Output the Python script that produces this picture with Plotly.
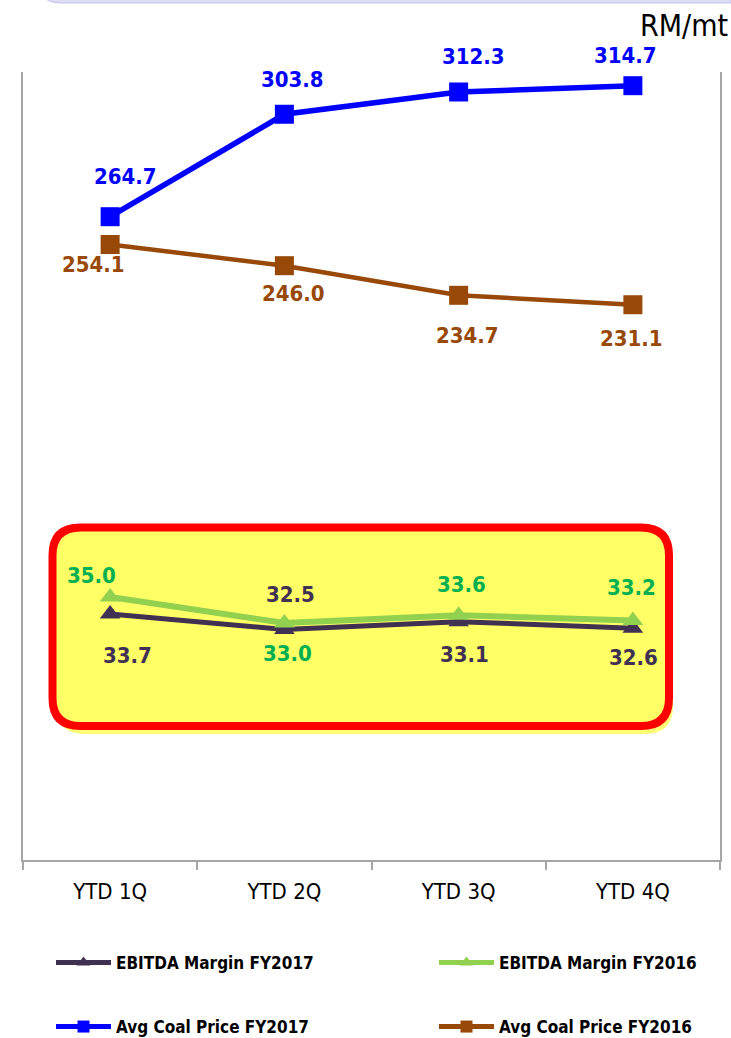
import plotly.graph_objects as go

# ---- data ----
quarters = ["YTD 1Q", "YTD 2Q", "YTD 3Q", "YTD 4Q"]
ebitda_fy2017 = [33.7, 32.5, 33.1, 32.6]
ebitda_fy2016 = [35.0, 33.0, 33.6, 33.2]
coal_fy2017 = [264.7, 303.8, 312.3, 314.7]
coal_fy2016 = [254.1, 246.0, 234.7, 231.1]
unit_label = "RM/mt"

# ---- styling ----
FONT = "DejaVu Sans Condensed"
C_DARK = "#403152"
C_GREEN = "#92D050"
C_GREEN_TXT = "#00B050"
C_BLUE = "#0000FF"
C_BROWN = "#984807"
AXIS_GREY = "#a6a6a6"

W_FIG, H_FIG = 731, 1038
L, R, T, B = 23, 720, 72, 860  # plot area in pixels

# label offsets (dx right, dy down) in pixels for each point
off_coal17 = [(15, -40), (8, -35), (15, -35), (-7, -30)]
off_coal16 = [(-17, 20), (9, 28), (9, 40), (-1, 34)]
off_eb16 = [(-19, -21), (3, 31), (3, -31), (-1, -33)]
off_eb17 = [(17, 42), (6, -35), (6, 33), (1, 29)]


def px(x):
    return (x - L) / (R - L)


def py(y):
    return (B - y) / (B - T)


def rounded_rect(x0, y0, x1, y1, r):
    """Rounded rectangle path in paper coords from pixel corners."""
    pts = [
        f"M{px(x0 + r)},{py(y0)}",
        f"L{px(x1 - r)},{py(y0)}",
        f"Q{px(x1)},{py(y0)} {px(x1)},{py(y0 + r)}",
        f"L{px(x1)},{py(y1 - r)}",
        f"Q{px(x1)},{py(y1)} {px(x1 - r)},{py(y1)}",
        f"L{px(x0 + r)},{py(y1)}",
        f"Q{px(x0)},{py(y1)} {px(x0)},{py(y1 - r)}",
        f"L{px(x0)},{py(y0 + r)}",
        f"Q{px(x0)},{py(y0)} {px(x0 + r)},{py(y0)}",
        "Z",
    ]
    return " ".join(pts)


fig = go.Figure()

fig.add_trace(go.Scatter(
    x=quarters, y=ebitda_fy2017, name="EBITDA Margin FY2017", yaxis="y2",
    mode="lines+markers", line=dict(color=C_DARK, width=5),
    marker=dict(symbol="triangle-up", size=18, color=C_DARK), legend="legend",
))
fig.add_trace(go.Scatter(
    x=quarters, y=ebitda_fy2016, name="EBITDA Margin FY2016", yaxis="y2",
    mode="lines+markers", line=dict(color=C_GREEN, width=6),
    marker=dict(symbol="triangle-up", size=18, color=C_GREEN), legend="legend2",
))
fig.add_trace(go.Scatter(
    x=quarters, y=coal_fy2017, name="Avg Coal Price FY2017",
    mode="lines+markers", line=dict(color=C_BLUE, width=5.5),
    marker=dict(symbol="square", size=19, color=C_BLUE), legend="legend3",
))
fig.add_trace(go.Scatter(
    x=quarters, y=coal_fy2016, name="Avg Coal Price FY2016",
    mode="lines+markers", line=dict(color=C_BROWN, width=4.5),
    marker=dict(symbol="square", size=19, color=C_BROWN), legend="legend4",
))

annotations = []


def add_labels(values, offsets, color, yref):
    for q, v, (dx, dy) in zip(quarters, values, offsets):
        annotations.append(dict(
            x=q, y=v, xref="x", yref=yref, text=f"{v:.1f}", showarrow=False,
            xshift=dx, yshift=-dy,
            font=dict(family=FONT, size=22, color=color, weight="bold"),
        ))


add_labels(coal_fy2017, off_coal17, C_BLUE, "y")
add_labels(coal_fy2016, off_coal16, C_BROWN, "y")
add_labels(ebitda_fy2016, off_eb16, C_GREEN_TXT, "y2")
add_labels(ebitda_fy2017, off_eb17, C_DARK, "y2")

annotations.append(dict(
    x=px(730), y=py(25), xref="paper", yref="paper", text=unit_label,
    showarrow=False, xanchor="right", yanchor="middle",
    font=dict(family=FONT, size=30, color="black"),
))

shapes = [
    # header strip along the top edge
    dict(type="path", xref="paper", yref="paper", layer="below",
         path=(f"M{px(731)},{py(-10)} L{px(731)},{py(3)} L{px(60)},{py(3)} "
               f"Q{px(44)},{py(3)} {px(40)},{py(-10)} Z"),
         fillcolor="#dcdcf4", line=dict(color="#c4c4ec", width=1)),
    # soft shadow under the highlight box
    dict(type="path", xref="paper", yref="paper", layer="below",
         path=rounded_rect(56.5, 535.5, 673, 734, 28),
         fillcolor="#ffff77", line=dict(width=0)),
    # highlight box around the margin series
    dict(type="path", xref="paper", yref="paper", layer="below",
         path=rounded_rect(52.5, 527.5, 669, 726, 28),
         fillcolor="#ffff66", line=dict(color="#ff0000", width=8)),
]


def legend_box(x_px, y_px):
    return dict(
        orientation="h", x=px(x_px), y=py(y_px), xanchor="left",
        yanchor="middle", itemsizing="constant", itemwidth=55,
        font=dict(family=FONT, size=17, color="black", weight="bold"),
        bgcolor="rgba(0,0,0,0)",
    )


fig.update_layout(
    width=W_FIG, height=H_FIG,
    margin=dict(l=L, r=W_FIG - R, t=T, b=H_FIG - B, pad=0, autoexpand=False),
    paper_bgcolor="white", plot_bgcolor="white",
    font=dict(family=FONT, color="black"),
    xaxis=dict(
        type="category", range=[-0.5, 3.5], showgrid=False, zeroline=False,
        showline=True, linecolor=AXIS_GREY, linewidth=2,
        ticks="outside", tickson="boundaries", ticklen=8, tickcolor=AXIS_GREY,
        tickwidth=2, tickfont=dict(family=FONT, size=22, color="black"),
        ticklabelstandoff=11,
    ),
    yaxis=dict(
        range=[19.17, 319.93], showgrid=False, zeroline=False,
        showticklabels=False, showline=True, linecolor=AXIS_GREY, linewidth=2,
        ticks="",
    ),
    yaxis2=dict(
        range=[14.77, 75.38], overlaying="y", side="right", showgrid=False,
        zeroline=False, showticklabels=False, showline=True,
        linecolor=AXIS_GREY, linewidth=2, ticks="",
    ),
    legend=legend_box(51, 963),
    legend2=legend_box(434, 963),
    legend3=legend_box(51, 1027),
    legend4=legend_box(434, 1027),
    showlegend=True,
    annotations=annotations,
    shapes=shapes,
)

fig.write_html("out.html")
